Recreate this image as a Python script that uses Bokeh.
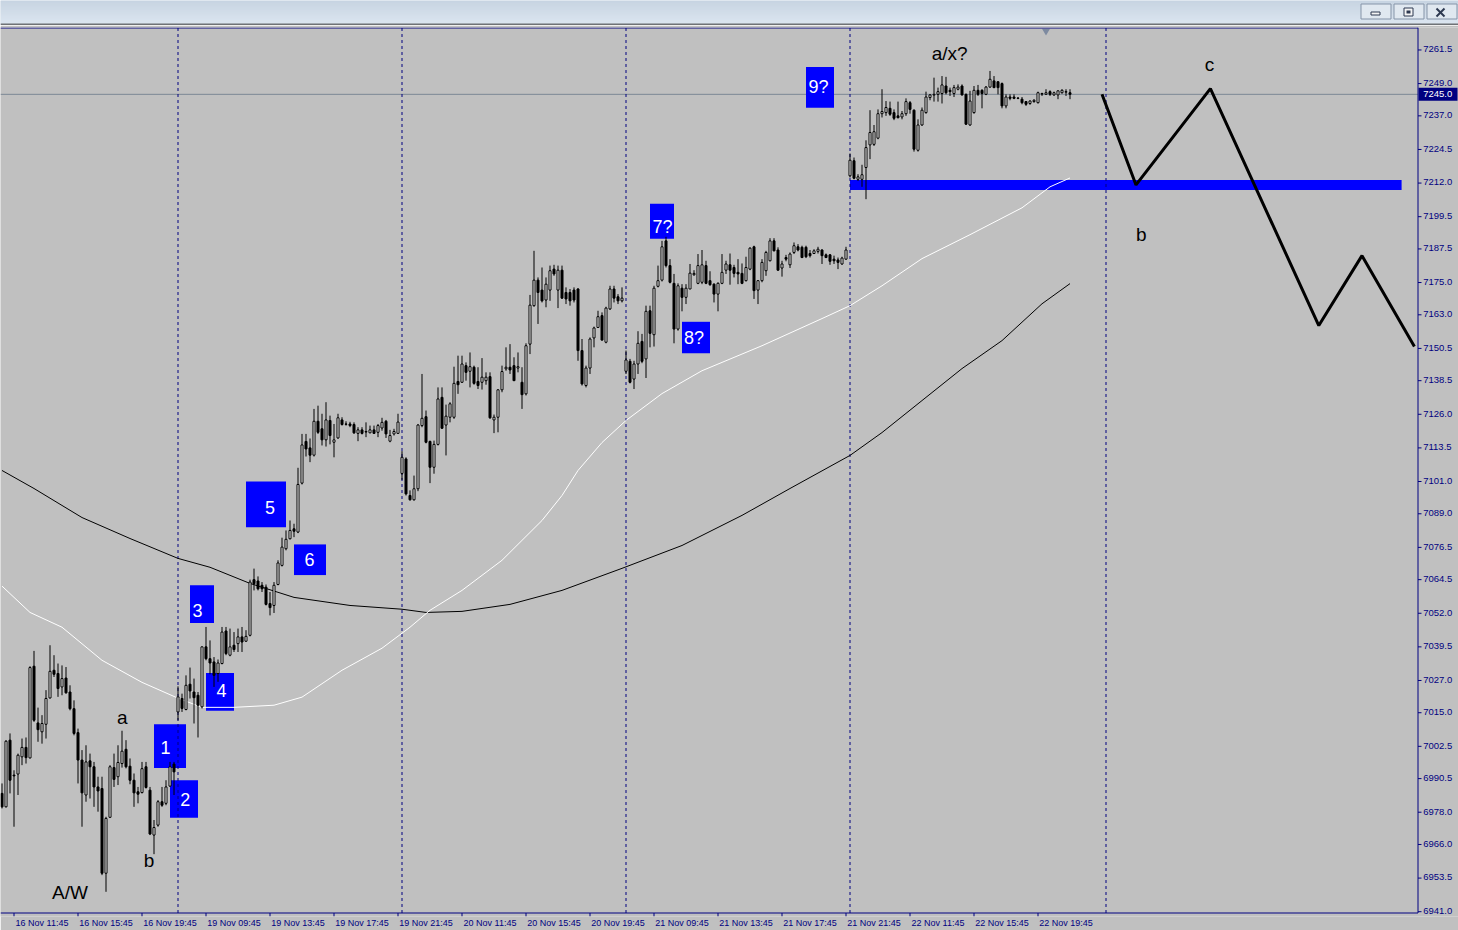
from bokeh.plotting import figure
from bokeh.layouts import column
from bokeh.models import Range1d, FixedTicker, LinearAxis, ColumnDataSource
from bokeh.core.properties import value
from bokeh.embed import file_html
from bokeh.resources import INLINE

# ---------------------------------------------------------------- data
# M15 bars, bar index 0 = 19 Nov 08:00 (first bar of 19 Nov)
first_bar = -44
bar_open = [
    # 16 Nov
    6985.0, 6980.0, 7004.8, 6991.8, 6992.2, 6998.6, 7002.1, 6998.2, 7032.3, 7011.2,
    7007.9, 7010.7, 7020.5, 7030.8, 7029.6, 7024.6, 7027.9, 7022.7, 7016.5, 7007.6,
    6997.4, 6984.4, 6997.1, 6994.9, 6987.4, 6986.8, 6955.3, 6976.1, 6994.6, 6991.2,
    6996.1, 7001.4, 6995.1, 6989.9, 6985.6, 6985.3, 6994.9, 6986.2, 6969.5, 6973.2,
    6981.9, 6981.3, 6987.7, 6995.9,
    # 19 Nov
    7015.3, 7020.3, 7016.2, 7025.6, 7022.7, 7021.5, 7017.2, 7039.5, 7035.1, 7033.9,
    7029.6, 7033.3, 7045.4, 7036.4, 7040.1, 7040.7, 7043.2, 7041.6, 7043.8, 7064.5,
    7064.0, 7062.4, 7061.7, 7055.6, 7054.9, 7062.7, 7069.8, 7076.0, 7079.7, 7083.4,
    7082.2, 7100.4, 7115.9, 7113.5, 7110.8, 7123.4, 7120.6, 7116.5, 7123.7, 7115.6,
    7117.2, 7123.9, 7122.4, 7122.4, 7122.2, 7118.9, 7120.2, 7119.6, 7119.1, 7120.2,
    7119.3, 7120.9, 7123.4, 7116.0, 7118.7, 7118.9,
    # 20 Nov
    7104.0, 7109.4, 7095.8, 7094.2, 7098.3, 7121.8, 7125.1, 7115.9, 7106.3, 7114.8,
    7132.3, 7122.0, 7124.9, 7124.9, 7138.2, 7137.9, 7144.1, 7142.0, 7143.5, 7138.2,
    7137.9, 7138.5, 7140.0, 7123.9, 7124.9, 7135.1, 7142.9, 7143.5, 7144.1, 7143.2,
    7137.9, 7133.6, 7152.1, 7166.4, 7175.9, 7172.2, 7168.5, 7172.2, 7180.0, 7172.2,
    7179.6, 7171.3, 7171.3, 7172.2, 7172.6, 7149.7, 7136.7, 7143.2, 7154.4, 7158.3,
    7162.7, 7152.8, 7165.2, 7172.6, 7169.7, 7168.2,
    # 21 Nov
    7142.0, 7145.7, 7139.1, 7144.7, 7153.1, 7146.6, 7164.5, 7155.6, 7173.6, 7175.9,
    7190.5, 7181.3, 7174.7, 7157.7, 7172.9, 7169.5, 7172.6, 7177.9, 7174.7, 7175.1,
    7181.3, 7175.7, 7174.4, 7170.7, 7174.7, 7179.6, 7181.6, 7180.6, 7178.8, 7178.4,
    7175.7, 7180.0, 7188.3, 7172.2, 7175.7, 7179.4, 7183.1, 7190.5, 7187.1, 7180.4,
    7184.3, 7181.6, 7186.2, 7188.3, 7188.1, 7188.1, 7185.8, 7185.8, 7186.6, 7187.1,
    7185.3, 7185.3, 7183.7, 7183.4, 7181.9, 7183.7,
    # 22 Nov
    7214.7, 7220.3, 7213.4, 7213.4, 7217.8, 7226.2, 7226.4, 7228.7, 7237.8, 7238.2,
    7239.8, 7238.2, 7237.0, 7236.6, 7237.8, 7241.9, 7239.1, 7224.2, 7233.6, 7238.2,
    7243.8, 7244.7, 7245.0, 7245.3, 7248.1, 7246.5, 7245.3, 7246.9, 7248.1, 7245.0,
    7233.6, 7238.2, 7246.5, 7246.5, 7245.0, 7247.7, 7250.0, 7249.7, 7249.0, 7240.7,
    7244.0, 7244.0, 7243.6, 7243.2, 7242.3, 7241.6, 7242.3, 7241.9, 7245.1, 7245.0,
    7246.0, 7244.8, 7244.8, 7245.6, 7245.8, 7245.6,
]
bar_high = [
    6988.7, 7004.8, 7007.3, 6993.6, 6999.8, 7005.4, 7005.8, 7032.3, 7038.0, 7016.9,
    7014.1, 7023.4, 7040.1, 7036.4, 7033.3, 7032.6, 7032.0, 7025.2, 7019.6, 7009.1,
    7001.1, 7002.9, 6999.8, 6996.7, 6991.2, 6991.2, 6976.3, 6995.5, 6999.8, 7002.9,
    7008.3, 7004.8, 6998.0, 6992.4, 6987.4, 6996.7, 6996.7, 6987.4, 6975.1, 6982.5,
    6987.4, 6989.9, 6996.7, 6996.7,
    7024.8, 7022.1, 7028.9, 7031.8, 7027.7, 7022.7, 7039.7, 7046.9, 7041.9, 7035.7,
    7034.8, 7046.9, 7046.9, 7046.3, 7045.0, 7046.3, 7046.9, 7045.7, 7064.5, 7068.6,
    7065.7, 7063.6, 7062.7, 7059.9, 7063.6, 7071.7, 7080.1, 7082.8, 7086.5, 7085.3,
    7106.1, 7118.7, 7118.7, 7117.0, 7128.0, 7129.2, 7126.2, 7130.5, 7125.5, 7122.4,
    7126.2, 7124.9, 7123.4, 7123.2, 7123.0, 7121.2, 7121.2, 7123.0, 7121.8, 7121.8,
    7122.4, 7124.7, 7123.9, 7120.2, 7120.6, 7126.2,
    7112.3, 7110.0, 7097.7, 7103.2, 7122.4, 7141.0, 7127.4, 7116.2, 7116.2, 7136.0,
    7136.0, 7129.6, 7130.5, 7143.7, 7147.8, 7147.8, 7145.3, 7149.0, 7144.1, 7143.5,
    7146.9, 7141.6, 7141.6, 7125.9, 7135.4, 7144.1, 7150.9, 7152.1, 7147.2, 7149.0,
    7143.5, 7152.4, 7170.4, 7186.8, 7176.9, 7180.6, 7176.9, 7181.3, 7181.6, 7181.3,
    7181.3, 7173.2, 7172.6, 7173.2, 7172.9, 7154.0, 7144.1, 7154.6, 7158.6, 7164.5,
    7163.9, 7166.0, 7173.8, 7173.8, 7170.7, 7173.2,
    7149.7, 7146.6, 7145.9, 7156.9, 7155.9, 7166.4, 7166.4, 7173.8, 7181.3, 7190.5,
    7192.0, 7183.7, 7178.2, 7174.7, 7174.4, 7174.4, 7181.9, 7179.6, 7185.6, 7187.1,
    7183.1, 7179.2, 7174.7, 7175.1, 7185.6, 7183.1, 7185.8, 7181.6, 7183.7, 7182.1,
    7184.6, 7188.1, 7188.7, 7175.9, 7183.7, 7186.8, 7191.5, 7191.5, 7188.1, 7183.1,
    7185.3, 7186.2, 7189.9, 7189.3, 7188.7, 7188.7, 7187.1, 7187.4, 7188.3, 7187.4,
    7185.8, 7185.6, 7185.0, 7184.3, 7184.6, 7188.3,
    7223.0, 7221.5, 7215.3, 7218.8, 7227.9, 7239.1, 7233.6, 7239.4, 7246.9, 7242.5,
    7242.3, 7239.4, 7242.3, 7238.8, 7243.5, 7242.5, 7239.4, 7235.7, 7240.1, 7246.0,
    7245.0, 7251.2, 7247.5, 7251.8, 7251.5, 7247.5, 7248.5, 7248.7, 7248.7, 7245.3,
    7246.3, 7248.1, 7248.5, 7246.9, 7248.1, 7253.7, 7251.8, 7249.7, 7249.4, 7245.0,
    7245.0, 7245.0, 7244.0, 7244.0, 7242.5, 7242.8, 7243.2, 7246.0, 7245.6, 7246.9,
    7246.5, 7246.0, 7246.5, 7246.9, 7246.9, 7246.9,
]
bar_low = [
    6979.4, 6979.8, 6985.0, 6972.6, 6984.4, 6995.5, 6996.1, 6998.0, 7011.6, 7004.2,
    7003.5, 7005.4, 7020.3, 7028.3, 7020.9, 7021.5, 7022.1, 7015.9, 7006.6, 6988.7,
    6972.6, 6981.9, 6983.1, 6980.0, 6978.2, 6954.6, 6948.4, 6976.1, 6987.4, 6988.1,
    6994.6, 6994.3, 6988.4, 6980.0, 6981.3, 6985.0, 6986.8, 6969.5, 6962.4, 6972.6,
    6980.0, 6980.6, 6987.4, 6984.4,
    7012.2, 7015.3, 7015.9, 7020.3, 7011.0, 7005.8, 7016.6, 7034.5, 7029.3, 7024.6,
    7026.5, 7033.0, 7036.4, 7036.0, 7037.6, 7037.6, 7037.6, 7041.3, 7043.4, 7060.5,
    7060.5, 7059.9, 7054.9, 7051.2, 7052.1, 7062.4, 7069.4, 7075.4, 7079.5, 7080.3,
    7081.8, 7099.9, 7110.3, 7108.2, 7110.3, 7118.7, 7114.4, 7114.0, 7114.8, 7110.0,
    7116.9, 7121.8, 7121.8, 7121.2, 7118.7, 7116.0, 7118.5, 7117.5, 7119.0, 7118.7,
    7117.5, 7119.9, 7117.2, 7115.6, 7118.1, 7118.7,
    7101.6, 7095.8, 7093.9, 7093.9, 7097.4, 7121.2, 7115.2, 7100.4, 7103.9, 7114.4,
    7120.6, 7110.7, 7123.0, 7124.3, 7133.6, 7137.7, 7138.5, 7136.0, 7137.0, 7135.4,
    7135.2, 7137.0, 7124.3, 7119.0, 7119.3, 7134.2, 7142.2, 7141.0, 7138.5, 7141.6,
    7128.0, 7133.0, 7148.4, 7166.0, 7159.6, 7167.6, 7165.8, 7168.2, 7177.5, 7165.5,
    7168.9, 7167.0, 7166.4, 7167.6, 7145.9, 7136.7, 7136.0, 7141.0, 7150.9, 7158.1,
    7153.4, 7152.4, 7164.8, 7167.6, 7167.0, 7167.6,
    7141.0, 7137.5, 7135.4, 7141.0, 7145.0, 7139.5, 7150.9, 7151.2, 7173.2, 7175.4,
    7180.6, 7174.7, 7152.4, 7157.1, 7164.3, 7167.0, 7172.6, 7177.5, 7174.4, 7174.4,
    7174.4, 7173.8, 7167.6, 7164.3, 7174.4, 7178.2, 7174.2, 7176.9, 7174.4, 7174.4,
    7175.4, 7179.6, 7168.9, 7167.0, 7175.1, 7177.5, 7182.9, 7186.6, 7179.4, 7177.2,
    7182.9, 7180.4, 7185.6, 7186.6, 7184.1, 7184.1, 7184.3, 7185.6, 7185.8, 7181.9,
    7184.1, 7181.6, 7181.9, 7180.0, 7181.6, 7183.4,
    7214.1, 7213.4, 7212.8, 7210.6, 7206.0, 7220.9, 7225.8, 7228.3, 7236.4, 7237.0,
    7237.0, 7235.4, 7236.1, 7235.7, 7237.0, 7237.8, 7223.7, 7223.7, 7233.3, 7237.8,
    7242.8, 7242.3, 7242.3, 7241.6, 7245.0, 7244.4, 7244.0, 7246.5, 7244.5, 7233.6,
    7233.3, 7237.8, 7244.4, 7239.8, 7244.7, 7247.5, 7247.3, 7245.0, 7239.8, 7239.8,
    7242.8, 7243.2, 7243.2, 7241.3, 7240.7, 7241.1, 7241.9, 7241.6, 7244.4, 7244.8,
    7244.4, 7244.4, 7243.2, 7245.3, 7244.4, 7243.2,
]
bar_close = [
    6980.0, 7004.4, 6989.9, 6991.5, 6999.2, 7002.1, 6998.3, 7031.8, 7012.2, 7008.7,
    7011.0, 7020.3, 7030.4, 7029.3, 7024.0, 7027.7, 7022.4, 7016.5, 7007.3, 6997.4,
    6985.2, 6996.7, 6994.9, 6987.4, 6985.9, 6955.3, 6975.7, 6994.9, 6990.2, 6996.5,
    7000.7, 6994.9, 6989.9, 6985.2, 6984.7, 6994.2, 6987.2, 6969.9, 6972.3, 6981.9,
    6980.6, 6987.4, 6994.9, 6993.0,
    7020.9, 7016.6, 7025.2, 7023.1, 7020.6, 7017.8, 7039.5, 7035.1, 7033.5, 7028.9,
    7033.5, 7045.0, 7037.0, 7039.5, 7038.5, 7043.2, 7041.3, 7043.4, 7063.6, 7063.0,
    7061.1, 7061.1, 7055.3, 7054.1, 7062.4, 7070.7, 7076.6, 7079.5, 7082.8, 7082.5,
    7099.9, 7114.6, 7113.1, 7110.8, 7123.4, 7119.3, 7116.5, 7123.9, 7118.1, 7116.5,
    7124.7, 7122.2, 7122.3, 7121.8, 7119.1, 7120.2, 7118.9, 7119.4, 7120.2, 7118.9,
    7121.8, 7123.0, 7118.7, 7118.1, 7119.6, 7123.1,
    7110.0, 7096.4, 7094.2, 7098.3, 7122.0, 7124.5, 7115.6, 7106.3, 7114.8, 7131.7,
    7120.8, 7125.3, 7129.9, 7137.5, 7137.0, 7144.7, 7141.6, 7143.7, 7137.5, 7136.7,
    7139.8, 7139.8, 7124.7, 7124.9, 7135.1, 7141.9, 7143.5, 7142.5, 7138.5, 7143.7,
    7133.3, 7151.5, 7166.6, 7175.9, 7171.3, 7168.2, 7174.4, 7179.4, 7178.2, 7179.6,
    7169.2, 7168.9, 7168.2, 7168.5, 7149.7, 7137.3, 7143.2, 7154.0, 7158.1, 7162.3,
    7153.6, 7165.5, 7172.6, 7169.2, 7168.2, 7169.2,
    7146.2, 7137.9, 7144.7, 7152.4, 7145.7, 7164.3, 7156.1, 7172.9, 7175.7, 7188.3,
    7181.3, 7175.1, 7157.7, 7173.8, 7169.5, 7172.9, 7178.5, 7178.4, 7181.3, 7181.6,
    7174.7, 7174.2, 7170.7, 7174.7, 7178.8, 7181.9, 7179.6, 7178.4, 7178.2, 7174.7,
    7180.6, 7187.8, 7172.0, 7175.7, 7182.5, 7186.2, 7190.5, 7186.8, 7179.6, 7181.9,
    7183.7, 7185.6, 7188.7, 7187.1, 7184.3, 7184.6, 7185.0, 7186.8, 7187.4, 7185.0,
    7184.3, 7182.9, 7183.1, 7182.5, 7184.1, 7187.1,
    7220.5, 7213.8, 7214.3, 7215.1, 7225.2, 7230.8, 7231.1, 7237.8, 7238.6, 7240.1,
    7237.6, 7236.1, 7236.3, 7237.8, 7242.3, 7239.4, 7224.6, 7233.6, 7239.1, 7244.0,
    7244.8, 7245.0, 7246.0, 7248.5, 7245.6, 7246.0, 7247.5, 7247.7, 7244.8, 7233.9,
    7242.5, 7246.5, 7245.0, 7245.3, 7247.7, 7250.6, 7247.5, 7247.5, 7240.7, 7244.0,
    7243.5, 7243.5, 7243.5, 7241.9, 7241.3, 7242.5, 7242.8, 7245.6, 7245.3, 7245.6,
    7245.0, 7245.6, 7246.3, 7246.5, 7246.0, 7245.0,
]

# moving averages (bar index, value)
slow_ma_bar = [-44, -36, -24, -12, 0, 8, 18, 29, 43, 56, 62, 71, 83, 96, 111,
               126, 141, 153, 168, 176, 186, 196, 206, 216, 223]
slow_ma_val = [7105.1, 7098.4, 7087.6, 7079.8, 7072.4, 7069.1, 7063.1, 7057.9,
               7054.9, 7053.5, 7052.3, 7052.7, 7055.3, 7060.5, 7068.7, 7077.2,
               7088.4, 7098.4, 7110.7, 7119.2, 7131.1, 7143.0, 7153.4, 7167.1, 7174.6]
fast_ma_bar = [-44, -37, -29, -19, -9, 0, 6, 14, 24, 31, 41, 51, 58, 63, 71, 81,
               91, 96, 100, 106, 112, 121, 131, 146, 161, 168, 176, 186, 198, 211, 218, 223]
fast_ma_val = [7062.1, 7052.3, 7046.8, 7034.5, 7026.3, 7020.4, 7017.0, 7017.0,
               7017.8, 7020.8, 7030.8, 7039.0, 7046.8, 7053.1, 7060.5, 7071.7,
               7086.5, 7095.8, 7105.1, 7115.5, 7123.7, 7133.7, 7142.2, 7151.5,
               7161.6, 7166.4, 7173.8, 7183.9, 7192.8, 7202.8, 7210.6, 7213.9]

# wave count boxes (blue) and their labels (label value = text baseline)
box_text = ["1", "2", "3", "4", "5", "6", "7?", "8?", "9?"]
box_left = [-6, -2, 3, 7, 17, 29, 118, 126, 157]
box_right = [2, 5, 9, 14, 27, 37, 124, 133, 164]
box_top = [7010.7, 6989.9, 7062.4, 7029.8, 7101.0, 7077.6, 7204.3, 7160.4, 7255.2]
box_bottom = [6994.4, 6975.9, 7048.4, 7015.7, 7084.0, 7066.2, 7191.3, 7148.7, 7240.0]
box_text_bar = [-3.1, 1.8, 4.9, 10.9, 23.0, 32.9, 121.1, 129.0, 160.1]
box_text_val = [6999.2, 6980.0, 7050.4, 7020.5, 7088.4, 7069.2, 7192.8, 7151.5, 7244.8]

# plain wave labels (value = text baseline)
wave_text = ["a", "b", "A/W", "a/x?", "b", "c"]
wave_bar = [-13.95, -7.25, -27.0, 192.9, 240.8, 257.9]
wave_val = [7010.4, 6957.1, 6945.1, 7257.2, 7189.9, 7253.1]

# projected path
path_bar = [231, 239.5, 258.1, 285.2, 296, 309.1]
path_val = [7245.0, 7211.3, 7247.1, 7159.0, 7185.0, 7151.2]

# support zone
zone_bar = [168, 305.9]
zone_val = [7209.4, 7213.1]

last_price = 7245.0
day_start_bars = [0, 56, 112, 168, 232]
shift_marker_bar = 217

price_tick_labels = ["7261.5", "7249.0", "7237.0", "7224.5", "7212.0", "7199.5",
                     "7187.5", "7175.0", "7163.0", "7150.5", "7138.5", "7126.0",
                     "7113.5", "7101.0", "7089.0", "7076.5", "7064.5", "7052.0",
                     "7039.5", "7027.0", "7015.0", "7002.5", "6990.5", "6978.0",
                     "6966.0", "6953.5", "6941.0"]
time_tick_bar = [-41, -25, -9, 7, 23, 39, 55, 71, 87, 103, 119, 135, 151, 167, 183, 199, 215]
time_tick_labels = ["16 Nov 11:45", "16 Nov 15:45", "16 Nov 19:45", "19 Nov 09:45",
                    "19 Nov 13:45", "19 Nov 17:45", "19 Nov 21:45", "20 Nov 11:45",
                    "20 Nov 15:45", "20 Nov 19:45", "21 Nov 09:45", "21 Nov 13:45",
                    "21 Nov 17:45", "21 Nov 21:45", "22 Nov 11:45", "22 Nov 15:45",
                    "22 Nov 19:45"]

# ---------------------------------------------------------------- layout / style
BG = "#c0c0c0"
NAVY = "#000080"
BLUE = "#0000ff"
FONT = value("Liberation Sans")
W, H = 1458, 930
TB_H = 25                      # title bar height
MAIN_H = H - TB_H
FRAME_TOP_GAP = 2
FRAME_H = 890                  # chart rows 27..913 plus 3 rows for time ticks
CHART_ROWS = 887
PX_PER_BAR = 4.0
PPU = 2.6917                   # pixels per price point
X_START = -44.375
X_END = X_START + W / PX_PER_BAR
Y_END = 7261.5 + 22.5 / PPU
Y_START = Y_END - FRAME_H / PPU
Y_TOPLINE = Y_END - 0.5 / PPU
Y_BOTLINE = Y_END - (CHART_ROWS - 0.5) / PPU
Y_TICKEND = Y_END - (CHART_ROWS + 3) / PPU
AX_X = X_START + 1417.5 / PX_PER_BAR     # price-scale line (bar units)
BASE_FIX = 0.42                # em correction for alphabetic baseline


def lift(vals, size_px):
    """raise text so that its alphabetic baseline lands on the given value"""
    return [v + BASE_FIX * size_px / PPU for v in vals]


# ---------------------------------------------------------------- title bar
tb = figure(width=W, height=TB_H, x_range=Range1d(0, W), y_range=Range1d(0, TB_H),
            x_axis_type=None, y_axis_type=None, toolbar_location=None,
            output_backend="svg", min_border=0, outline_line_color=None,
            background_fill_color="#d2dde9", border_fill_color="#d2dde9")
top_c = (0xc3, 0xd1, 0xdf)
bot_c = (0xdd, 0xe7, 0xf2)
rows = TB_H - 2
for i in range(rows):
    t = i / (rows - 1)
    col = "#%02x%02x%02x" % tuple(int(round(a + (b - a) * t)) for a, b in zip(top_c, bot_c))
    tb.quad(left=0, right=W, top=TB_H - i, bottom=TB_H - i - 1, fill_color=col, line_color=None)
tb.quad(left=0, right=W, top=2, bottom=0, fill_color="#6f7276", line_color=None)
for bx in (1360, 1393, 1426):
    tb.quad(left=bx + 0.5, right=bx + 30.5, top=21.5, bottom=6.5, fill_color="#e0e8f0",
            line_color="#8594a8", line_width=1)
tb.quad(left=1370.5, right=1379.5, top=13.5, bottom=10.5, fill_color="#f4f4f4", line_color="#2c3850")
tb.quad(left=1403.5, right=1412.5, top=17.5, bottom=9.5, fill_color="#f4f4f4", line_color="#2c3850")
tb.quad(left=1406, right=1410, top=15, bottom=12, fill_color="#2c3850", line_color=None)
tb.segment(x0=[1436, 1436], y0=[9, 17], x1=[1444, 1444], y1=[17, 9],
           line_color="#2c3850", line_width=2)

# ---------------------------------------------------------------- main chart
p = figure(width=W, height=MAIN_H, x_range=Range1d(X_START, X_END),
           y_range=Range1d(Y_START, Y_END), x_axis_type=None, y_axis_type=None,
           toolbar_location=None, output_backend="svg",
           background_fill_color=BG, border_fill_color=BG, outline_line_color=None,
           min_border_left=0, min_border_right=0, min_border_top=FRAME_TOP_GAP,
           min_border_bottom=MAIN_H - FRAME_H - FRAME_TOP_GAP)

# time axis labels (start just right of each tick mark)
lab_pos = [b + 7 for b in time_tick_bar]
ax_labels = LinearAxis(ticker=FixedTicker(ticks=lab_pos),
                       major_label_overrides={b: s for b, s in zip(lab_pos, time_tick_labels)},
                       major_label_text_font="Liberation Sans",
                       major_label_text_font_size="9px",
                       major_label_text_color=NAVY, major_label_standoff=1,
                       axis_line_color=None, major_tick_line_color=None,
                       minor_tick_line_color=None, major_tick_out=0, major_tick_in=0)
p.add_layout(ax_labels, "below")

# last price line
p.segment(x0=[X_START], y0=[last_price], x1=[AX_X], y1=[last_price],
          line_color="#7b8794", line_width=1)

# support zone and wave boxes (background objects)
p.quad(left=[zone_bar[0]], right=[zone_bar[1]], bottom=[zone_val[0]], top=[zone_val[1]],
       fill_color=BLUE, line_color=None)
p.quad(left=box_left, right=box_right, top=box_top, bottom=box_bottom,
       fill_color=BLUE, line_color=None)

# day separators
p.segment(x0=day_start_bars, y0=[Y_BOTLINE] * len(day_start_bars),
          x1=day_start_bars, y1=[Y_END] * len(day_start_bars),
          line_color=NAVY, line_width=1, line_dash="3 3")

# moving averages
p.line(slow_ma_bar, slow_ma_val, line_color="black", line_width=1)
p.line(fast_ma_bar, fast_ma_val, line_color="white", line_width=1)

# candles
n = len(bar_close)
bar_x = list(range(first_bar, first_bar + n))
src = ColumnDataSource(dict(
    x=bar_x, h=bar_high, l=bar_low,
    top=[max(o, c) for o, c in zip(bar_open, bar_close)],
    bottom=[min(o, c) for o, c in zip(bar_open, bar_close)],
    fill=["white" if c >= o else "black" for o, c in zip(bar_open, bar_close)],
))
p.segment(x0="x", y0="l", x1="x", y1="h", source=src, line_color="black", line_width=1)
p.vbar(x="x", width=0.5, top="top", bottom="bottom", source=src,
       fill_color="fill", line_color="black", line_width=1)

# projected path
p.line(path_bar, path_val, line_color="black", line_width=3)

# texts
p.text(x=box_text_bar, y=lift(box_text_val, 18), text=box_text, text_font=FONT,
       text_font_size="18px", text_color="white", text_align="center",
       text_baseline="alphabetic")
p.text(x=wave_bar, y=lift(wave_val, 19), text=wave_text, text_font=FONT,
       text_font_size="19px", text_color="black", text_align="center",
       text_baseline="alphabetic")

# chart shift marker
p.scatter(x=[shift_marker_bar], y=[Y_END - 3.5 / PPU], marker="inverted_triangle",
          size=8, fill_color="#7d8aa0", line_color=None)

# frame lines (top, bottom), time tick marks and price scale
p.segment(x0=[X_START, X_START], y0=[Y_TOPLINE, Y_BOTLINE],
          x1=[AX_X, AX_X], y1=[Y_TOPLINE, Y_BOTLINE], line_color=NAVY, line_width=1)
ntt = len(time_tick_bar)
p.segment(x0=time_tick_bar, y0=[Y_BOTLINE] * ntt, x1=time_tick_bar, y1=[Y_TICKEND] * ntt,
          line_color=NAVY, line_width=1)
p.segment(x0=[AX_X], y0=[Y_BOTLINE], x1=[AX_X], y1=[Y_END], line_color=NAVY, line_width=1)
tick_vals = [float(s) for s in price_tick_labels]
nt = len(tick_vals)
p.segment(x0=[AX_X] * nt, y0=tick_vals, x1=[AX_X + 0.875] * nt, y1=tick_vals,
          line_color=NAVY, line_width=1)
AX_FS = 9.5
digit_mid = 0.358 * AX_FS / PPU        # half the digit height, in price units
p.text(x=[AX_X + 1.3] * nt, y=lift([v - digit_mid for v in tick_vals], AX_FS),
       text=price_tick_labels, text_font=FONT, text_font_size="%.1fpx" % AX_FS,
       text_color=NAVY, text_align="left", text_baseline="alphabetic")

# last price tag on the price scale
half_tag = 6.5 / PPU
p.quad(left=[AX_X + 0.125], right=[X_END - 0.25], top=[last_price + half_tag],
       bottom=[last_price - half_tag], fill_color=NAVY, line_color=None)
p.text(x=[AX_X + 1.3], y=lift([last_price - digit_mid], AX_FS), text=["%.1f" % last_price],
       text_font=FONT, text_font_size="%.1fpx" % AX_FS, text_color="white",
       text_align="left", text_baseline="alphabetic")

layout = column(tb, p, spacing=0)
open("out.html", "w").write(file_html(layout, INLINE, title="chart"))
